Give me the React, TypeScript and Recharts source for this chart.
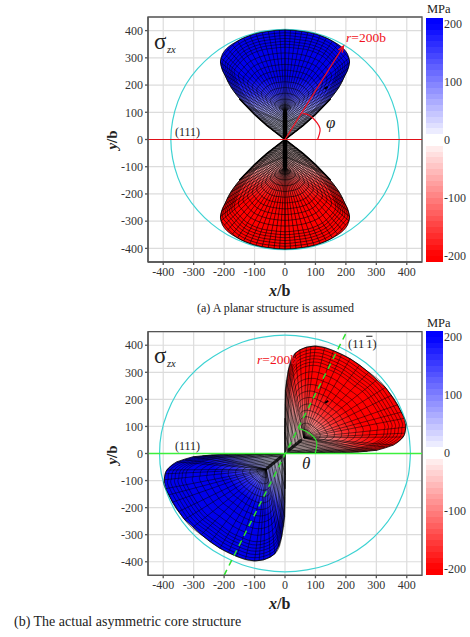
import React from 'react';
import { ComposedChart, XAxis, YAxis, CartesianGrid, Line, Area, Bar, ReferenceArea } from 'recharts';

type Pt = [number, number];

const axisTicks = [-400, -300, -200, -100, 0, 100, 200, 300, 400];
const barTicks = [200, 100, 0, -100, -200];
const barLevels = [210, 200, 190, 180, 170, 160, 150, 140, 130, 120, 110, 100, 90, 80, 70, 60, 50, 40, 30, 20, 10, 0, -10, -20, -30, -40, -50, -60, -70, -80, -90, -100, -110, -120, -130, -140, -150, -160, -170, -180, -190, -200, -210];

const circleAX = [375, 369, 352, 325, 287, 241, 188, 128, 65, 0];
const circleAY = [0, 70, 139, 203, 260, 310, 351, 381, 399, 405];
const circleBX = [412, 406, 387, 357, 316, 265, 206, 141, 72, 0];
const circleBY = [0, 76, 149, 219, 281, 335, 378, 411, 430, 437];

// panel (a): left half of the upper lobe
const lobeAX = [-212, -210, -205, -197, -186, -175, -160, -140, -120, -100, -80, -60, -40, -20, 0];
const lobeALow = [285, 270, 252, 235, 210, 188, 165, 138, 114, 92, 72, 52, 34, 17, 0];
const lobeAHigh = [285, 300, 315, 328, 340, 349, 359, 371, 380, 388, 393, 397, 400, 402, 403];

// panel (a): rings, as half curves from the crown to the core
const ringsA: [number[], number[]][] = [
  [[0, 50, 100, 160, 197, 212, 197, 175, 120, 60, 0], [403, 398, 388, 358, 316, 285, 237, 188, 114, 52, 0]],
  [[0, 48, 97, 154, 190, 205, 190, 169, 116, 58, 0], [392, 388, 378, 349, 308, 279, 232, 185, 114, 54, 4]],
  [[0, 47, 93, 149, 183, 197, 183, 163, 112, 56, 0], [382, 377, 368, 340, 301, 272, 227, 182, 113, 55, 7]],
  [[0, 45, 90, 143, 176, 190, 176, 157, 107, 54, 0], [371, 367, 358, 331, 293, 266, 223, 179, 113, 57, 11]],
  [[0, 43, 86, 138, 169, 182, 169, 151, 103, 52, 0], [361, 356, 348, 322, 286, 259, 218, 176, 112, 59, 14]],
  [[0, 41, 83, 132, 163, 175, 163, 144, 99, 50, 0], [350, 346, 338, 313, 278, 253, 213, 173, 112, 60, 18]],
  [[0, 40, 79, 126, 156, 167, 156, 138, 95, 47, 0], [339, 335, 328, 304, 271, 246, 208, 170, 111, 62, 21]],
  [[0, 36, 72, 115, 142, 153, 142, 126, 86, 43, 0], [318, 315, 307, 286, 256, 233, 199, 163, 110, 65, 28]],
  [[0, 33, 65, 104, 128, 138, 128, 114, 78, 39, 0], [297, 294, 287, 268, 240, 220, 189, 157, 109, 69, 35]],
  [[0, 29, 58, 93, 114, 123, 114, 102, 70, 35, 0], [276, 273, 267, 250, 225, 207, 179, 151, 108, 72, 42]],
  [[0, 26, 51, 82, 100, 108, 100, 89, 61, 31, 0], [255, 252, 247, 232, 210, 194, 170, 145, 107, 76, 49]],
  [[0, 22, 44, 70, 87, 93, 87, 77, 53, 26, 0], [233, 231, 227, 214, 195, 181, 160, 139, 106, 79, 56]],
  [[0, 19, 37, 59, 73, 78, 73, 65, 44, 22, 0], [212, 210, 207, 195, 180, 168, 151, 133, 105, 82, 63]],
  [[0, 15, 30, 48, 59, 64, 59, 53, 36, 18, 0], [191, 189, 186, 177, 165, 156, 141, 126, 104, 86, 70]],
  [[0, 12, 23, 37, 45, 49, 45, 40, 28, 14, 0], [170, 169, 166, 159, 150, 143, 132, 120, 103, 89, 77]],
  [[0, 8, 16, 26, 32, 34, 32, 28, 19, 10, 0], [148, 148, 146, 141, 135, 130, 122, 114, 102, 92, 84]],
  [[0, 5, 9, 14, 18, 19, 18, 16, 11, 5, 0], [127, 127, 126, 123, 119, 117, 112, 108, 101, 96, 91]],
];

// panel (a): spokes, [x end, y end, y start on the core column]
const spokesA: number[][] = [
  [0, 403, 100], [18, 402, 100], [36, 400, 100], [55, 397, 100], [75, 393, 100], [95, 388, 100], [115, 381, 100],
  [135, 371, 100], [155, 360, 100], [172, 347, 100], [188, 332, 100], [200, 315, 100], [209, 298, 100], [212, 283, 98],
  [208, 262, 95], [200, 240, 90], [190, 216, 85], [178, 193, 80], [165, 172, 75], [150, 150, 70], [135, 130, 65],
  [128, 122, 62], [120, 114, 60], [110, 103, 56], [100, 92, 52], [90, 82, 48], [80, 72, 45], [70, 62, 42], [60, 52, 38],
  [50, 43, 34], [40, 34, 30], [30, 25, 22], [20, 17, 14],
];

// panel (a): the dark lower edges of the upper lobe
const edgeA: Pt[] = [[-150, 150], [-100, 92], [-60, 52], [0, 0], [60, 52], [100, 92], [150, 150]];

// panel (b): upper right lobe
const lobeBX = [0, 1, 2, 11, 20, 33, 49, 70, 100, 130, 159, 186, 214, 245, 275, 302, 330, 356, 370, 382, 388, 392, 395, 397];
const lobeBLow = [0, 0, 1, 2, 2, 3, 3, 3, 4, 4, 4, 4, 4, 6, 9, 12, 21, 31, 41, 53, 61, 70, 84, 97];
const lobeBHigh = [0, 110, 234, 308, 342, 370, 383, 393, 397, 391, 380, 366, 350, 327, 300, 272, 244, 205, 180, 153, 140, 130, 112, 97];

const ringsB: [number[], number[]][] = [
  [[0, -1, 1, 11, 33, 100, 159, 214, 275, 330, 392, 396, 388, 329, 241, 132], [0, 110, 234, 308, 370, 397, 380, 350, 300, 244, 130, 97, 61, 24, 6, 3]],
  [[2, 1, 3, 13, 34, 99, 156, 209, 268, 321, 380, 384, 377, 320, 235, 130], [2, 108, 228, 299, 359, 385, 369, 340, 292, 237, 127, 96, 61, 25, 8, 5]],
  [[4, 3, 5, 15, 35, 97, 152, 203, 260, 311, 369, 373, 365, 310, 228, 127], [4, 106, 222, 291, 348, 373, 357, 330, 283, 231, 125, 94, 61, 26, 10, 7]],
  [[7, 6, 7, 16, 36, 96, 149, 198, 253, 302, 357, 361, 354, 301, 222, 125], [6, 105, 216, 282, 337, 361, 346, 319, 275, 224, 122, 93, 61, 28, 11, 9]],
  [[9, 8, 10, 18, 37, 95, 145, 193, 245, 292, 346, 349, 342, 292, 216, 122], [8, 103, 209, 273, 326, 350, 335, 309, 266, 218, 120, 92, 61, 29, 13, 11]],
  [[11, 10, 12, 20, 38, 93, 142, 187, 238, 283, 334, 338, 331, 282, 210, 120], [10, 101, 203, 264, 315, 338, 324, 299, 258, 211, 117, 90, 60, 30, 15, 13]],
  [[13, 12, 14, 22, 39, 92, 139, 182, 230, 274, 323, 326, 320, 273, 203, 117], [12, 99, 197, 256, 304, 326, 312, 289, 249, 205, 115, 89, 60, 31, 17, 15]],
  [[17, 17, 18, 25, 41, 89, 132, 171, 215, 255, 300, 302, 297, 254, 191, 112], [16, 95, 185, 238, 283, 302, 290, 268, 232, 192, 110, 86, 60, 34, 21, 18]],
  [[22, 21, 22, 29, 43, 87, 125, 161, 200, 236, 277, 279, 274, 236, 178, 108], [20, 92, 172, 221, 261, 278, 267, 248, 215, 179, 105, 83, 60, 36, 24, 22]],
  [[26, 25, 27, 32, 45, 84, 118, 150, 186, 217, 253, 256, 251, 217, 166, 103], [24, 88, 160, 203, 239, 255, 245, 227, 198, 166, 100, 81, 60, 38, 28, 26]],
  [[30, 30, 31, 36, 47, 81, 111, 140, 171, 199, 230, 232, 228, 198, 153, 98], [28, 85, 148, 186, 217, 231, 222, 207, 181, 153, 95, 78, 60, 41, 31, 30]],
  [[35, 34, 35, 40, 49, 79, 105, 129, 156, 180, 207, 209, 205, 179, 141, 93], [32, 81, 135, 168, 195, 207, 200, 186, 164, 140, 90, 75, 59, 43, 35, 34]],
  [[39, 39, 39, 43, 51, 76, 98, 118, 141, 161, 184, 186, 183, 161, 128, 88], [37, 77, 123, 151, 173, 183, 177, 166, 148, 127, 85, 72, 59, 45, 39, 38]],
  [[43, 43, 44, 47, 53, 73, 91, 108, 126, 142, 161, 162, 160, 142, 116, 83], [41, 74, 111, 133, 152, 160, 155, 146, 131, 114, 80, 70, 59, 48, 42, 41]],
  [[48, 48, 48, 50, 55, 71, 84, 97, 111, 124, 138, 139, 137, 123, 103, 78], [45, 70, 98, 116, 130, 136, 132, 125, 114, 101, 75, 67, 59, 50, 46, 45]],
  [[52, 52, 52, 54, 57, 68, 78, 86, 96, 105, 115, 115, 114, 105, 91, 73], [49, 66, 86, 98, 108, 112, 110, 105, 97, 88, 70, 64, 58, 53, 50, 49]],
  [[56, 56, 57, 57, 59, 65, 71, 76, 81, 86, 92, 92, 91, 86, 78, 68], [53, 63, 74, 81, 86, 89, 87, 84, 80, 75, 64, 62, 58, 55, 53, 53]],
];

// panel (b): spokes, [x start, y start, x end, y end]
const spokesB: number[][] = [
  [8, 8, 0, 40], [15, 15, -1, 80], [25, 25, 0, 130], [35, 35, 1, 180], [45, 43, 1, 234], [55, 50, 4, 270], [62, 58, 11, 308],
  [62, 58, 20, 342], [62, 58, 33, 370], [62, 58, 49, 383], [62, 58, 70, 393], [62, 58, 85, 396], [62, 58, 100, 397], [62, 58, 130, 391], [62, 58, 159, 380],
  [62, 58, 186, 366], [62, 58, 214, 350], [62, 58, 245, 327], [62, 58, 275, 300], [62, 58, 302, 272], [62, 58, 330, 244],
  [62, 58, 350, 215], [62, 58, 370, 180], [62, 58, 382, 153], [62, 58, 392, 130], [62, 58, 396, 97], [62, 58, 392, 75], [62, 58, 388, 61],
  [62, 58, 356, 31], [62, 58, 329, 24], [62, 58, 302, 12], [62, 58, 270, 8], [62, 58, 241, 6], [55, 50, 200, 4], [45, 43, 165, 3],
  [35, 35, 132, 3], [25, 25, 100, 2], [15, 15, 65, 2], [8, 8, 30, 1],
];

// panel (b): the dark edges that meet at the origin
const edgeB: Pt[] = [[0, 130], [-1, 80], [0, 0], [80, 2], [132, 3]];

const planeLine: Pt[] = [[-450, 0], [450, 0]];
const arrowA: Pt[] = [[0, 0], [192, 343]];
const arrowAHead: Pt[] = [[188, 319], [192, 343], [175, 329]];
const phiArc: Pt[] = [[58, 96], [78, 90], [93, 77], [106, 60], [115, 40], [113, 20], [107, 0]];
const thetaArc: Pt[] = [[44, 92], [62, 86], [81, 74], [95, 60], [104, 43], [103, 20], [99, 0]];
const slipLine: Pt[] = [[-200, -450], [200, 444]];
const coreA: Pt[] = [[0, 10], [0, 98]];
const coreAFlip: Pt[] = [[0, -10], [0, -98]];
const coreB: Pt[] = [[14, 14], [52, 48]];
const coreBFlip: Pt[] = [[-14, -14], [-58, -54]];
const speckA: Pt[] = [[130, 186], [140, 194]];
const speckB: Pt[] = [[132, 187], [142, 195]];

const pts = (list: Pt[]) => list.map(([x, y]) => ({ x, y }));
const zip = (xs: number[], ys: number[]): Pt[] => xs.map((x, i) => [x, ys[i]]);

const joinCurves = (curves: Pt[][]) => {
  const out: { x: number; y: number | null }[] = [];
  curves.forEach((c) => {
    c.forEach(([x, y]) => out.push({ x, y }));
    out.push({ x: c[c.length - 1][0], y: null });
  });
  return out;
};

const ellipse = (xs: number[], ys: number[]) => {
  const q = zip(xs, ys);
  const all: Pt[] = [
    ...q,
    ...q.slice(0, -1).reverse().map(([x, y]): Pt => [-x, y]),
    ...q.slice(1).map(([x, y]): Pt => [-x, -y]),
    ...q.slice(0, -1).reverse().map(([x, y]): Pt => [x, -y]),
  ];
  return pts(all);
};

const bothSides = (half: Pt[]): Pt[] => [
  ...half.slice().reverse().map(([x, y]): Pt => [-x, y]),
  ...half.slice(1),
];

const ringCurvesA = ringsA.map(([xs, ys]) => bothSides(zip(xs, ys)));
const spokeCurvesA = spokesA.flatMap(([x, y, y0]): Pt[][] => [
  [[0, y0], [x, y]],
  [[0, y0], [-x, y]],
]);
const flipY = (c: Pt[]): Pt[] => c.map(([x, y]) => [x, -y]);
const flipXY = (c: Pt[]): Pt[] => c.map(([x, y]) => [-x, -y]);

const ringCurvesB = ringsB.map(([xs, ys]) => {
  const c = zip(xs, ys);
  return [...c, c[0]];
});
const spokeCurvesB = spokesB.map(([a, b, c, d]): Pt[] => [[a, b], [c, d]]);

const lobeAUpper = [
  ...lobeAX.map((x, i) => ({ x, r: [lobeALow[i], lobeAHigh[i]] })),
  ...lobeAX.slice(0, -1).reverse().map((x) => {
    const i = lobeAX.indexOf(x);
    return { x: -x, r: [lobeALow[i], lobeAHigh[i]] };
  }),
];
const lobeALower = lobeAUpper.map((d) => ({ x: d.x, r: [-d.r[1], -d.r[0]] }));
const lobeBRight = lobeBX.map((x, i) => ({ x, r: [lobeBLow[i], lobeBHigh[i]] }));
const lobeBLeft = lobeBX.slice().reverse().map((x) => {
  const i = lobeBX.indexOf(x);
  return { x: -x, r: [-lobeBHigh[i], -lobeBLow[i]] };
});

const meshA = {
  upper: joinCurves([...ringCurvesA, ...spokeCurvesA]),
  lower: joinCurves([...ringCurvesA, ...spokeCurvesA].map(flipY)),
};
const meshB = {
  right: joinCurves([...ringCurvesB, ...spokeCurvesB]),
  left: joinCurves([...ringCurvesB, ...spokeCurvesB].map(flipXY)),
};

const SERIF = '"Liberation Serif", serif';
const AX = '#555';
const CYAN = '#3fd3d3';

const barColor = (v: number) => {
  const t = Math.round(255 * (1 - Math.min(Math.abs(v), 200) / 200));
  return v > 0 ? `rgb(${t},${t},255)` : `rgb(255,${t},${t})`;
};

const barStops = (levels: number[]) => {
  const stops: React.ReactElement[] = [];
  for (let i = 0; i < levels.length - 1; i++) {
    const mid = (levels[i] + levels[i + 1]) / 2;
    const zeroBand = levels[i] === 0 || levels[i + 1] === 0;
    const col = zeroBand ? '#ffffff' : barColor(mid);
    stops.push(<stop key={`a${i}`} offset={(210 - levels[i]) / 420} stopColor={col} />);
    stops.push(<stop key={`b${i}`} offset={(210 - levels[i + 1]) / 420} stopColor={col} />);
  }
  return stops;
};

const axes = (
  <>
    <CartesianGrid stroke="#dcdcdc" strokeWidth={1.2} />
    <XAxis
      dataKey="x" type="number" domain={[-450, 450]} ticks={axisTicks} allowDataOverflow interval={0}
      height={30} tickSize={3} tickMargin={2} stroke={AX} strokeWidth={1.3}
      tick={{ fontFamily: SERIF, fontSize: 12, fill: '#333' }}
    />
    <YAxis
      type="number" domain={[-450, 450]} ticks={axisTicks} allowDataOverflow interval={0}
      width={40} tickSize={3} tickMargin={2} stroke={AX} strokeWidth={1.3}
      tick={{ fontFamily: SERIF, fontSize: 12, fill: '#333' }}
    />
    <ReferenceArea x1={-450} x2={450} y1={-450} y2={450} fill="none" stroke={AX} strokeWidth={1.3} ifOverflow="visible" />
  </>
);

const plain = (key: string, data: any[], stroke: string, width: number, extra: any = {}) => (
  <Line
    key={key} data={data} dataKey="y" stroke={stroke} strokeWidth={width} dot={false} activeDot={false}
    isAnimationActive={false} type="linear" legendType="none" {...extra}
  />
);

const lobe = (key: string, data: any[], fill: string) => (
  <Area
    key={key} data={data} dataKey="r" type="linear" stroke="#000" strokeWidth={0.8} fill={`url(#${fill})`}
    fillOpacity={1} dot={false} activeDot={false} isAnimationActive={false} legendType="none"
  />
);

const stopOffsets = [0, 0.16, 0.3, 0.42, 0.56];

const stops = (c: 'r' | 'b', scale: number) => {
  const ramp = c === 'r'
    ? ['#fff4f4', '#f6d4d4', '#f58c8c', '#fb3030', '#ff0000']
    : ['#f4f4ff', '#d8d8f8', '#8c8cf2', '#3030f0', '#0000ec'];
  return [
    ...ramp.map((col, i) => <stop key={i} offset={stopOffsets[i] * scale} stopColor={col} />),
    <stop key="end" offset={1} stopColor={ramp[4]} />,
  ];
};

const Note = ({ x, y, size = 12, color = '#222', style, children }: any) => (
  <div style={{ position: 'absolute', left: x, top: y, transform: 'translateY(-50%)', fontFamily: SERIF, fontSize: size, color, lineHeight: 1, whiteSpace: 'nowrap', ...style }}>
    {children}
  </div>
);

const ColorBar = ({ top, id }: { top: number; id: string }) => (
  <div style={{ position: 'absolute', left: 426, top }}>
    <ComposedChart width={44} height={244} data={[{ c: 'MPa', range: [-210, 210] }]} margin={{ top: 0, right: 0, bottom: 0, left: 0 }} barCategoryGap={0}>
      <defs>
        <linearGradient id={id} x1="0" y1="0" x2="0" y2="1">{barStops(barLevels)}</linearGradient>
      </defs>
      <XAxis dataKey="c" hide />
      <YAxis
        orientation="right" type="number" domain={[-210, 210]} ticks={barTicks} interval={0} width={27}
        axisLine={false} tickLine={false} tickMargin={1} tickSize={0}
        tick={{ fontFamily: SERIF, fontSize: 12, fill: '#333', textAnchor: 'start' }}
      />
      <Bar dataKey="range" fill={`url(#${id})`} isAnimationActive={false} legendType="none" />
    </ComposedChart>
  </div>
);

export default function App() {
  return (
    <div style={{ position: 'absolute', left: 0, top: 0, width: 470, height: 637, background: '#fff', overflow: 'hidden' }}>
      <div style={{ position: 'absolute', left: 0, top: 0 }}>
        <ComposedChart width={470} height={320} margin={{ top: 17, right: 48, bottom: 28, left: 108 }}>
          <defs>
            <linearGradient id="aBlue" x1="0" y1="1" x2="0" y2="0">{stops('b', 1)}</linearGradient>
            <linearGradient id="aRed" x1="0" y1="0" x2="0" y2="1">{stops('r', 1)}</linearGradient>
          </defs>
          {axes}
          {plain('circle', ellipse(circleAX, circleAY), CYAN, 1.2, { type: 'natural' })}
          {lobe('up', lobeAUpper, 'aBlue')}
          {lobe('down', lobeALower, 'aRed')}
          {plain('meshUp', meshA.upper, '#000', 0.5, { type: 'natural' })}
          {plain('meshDown', meshA.lower, '#000', 0.6, { type: 'natural' })}
          {plain('edgeUp', pts(edgeA), '#000', 1.5)}
          {plain('edgeDown', pts(flipY(edgeA)), '#000', 1.5)}
          {plain('coreUp', pts(coreA), '#000', 4.5, { strokeLinecap: 'round' })}
          {plain('coreDown', pts(coreAFlip), '#000', 4.5, { strokeLinecap: 'round' })}
          {plain('speck', pts(speckA), '#000', 2)}
          {plain('plane', pts(planeLine), '#e01018', 1.2)}
          {plain('arrow', pts(arrowA), '#f01020', 1.2)}
          {plain('arrowHead', pts(arrowAHead), '#f01020', 1.4)}
          {plain('phi', pts(phiArc), '#f01020', 1.2, { type: 'natural' })}
        </ComposedChart>
      </div>
      <div style={{ position: 'absolute', left: 0, top: 322 }}>
        <ComposedChart width={470} height={315} margin={{ top: 9.7, right: 48, bottom: 31.7, left: 108 }}>
          <defs>
            <linearGradient id="bRed" x1="0" y1="1" x2="1" y2="0">{stops('r', 0.8)}</linearGradient>
            <linearGradient id="bBlue" x1="1" y1="0" x2="0" y2="1">{stops('b', 0.65)}</linearGradient>
          </defs>
          {axes}
          {plain('circle', ellipse(circleBX, circleBY), CYAN, 1.2, { type: 'natural' })}
          {lobe('right', lobeBRight, 'bRed')}
          {lobe('left', lobeBLeft, 'bBlue')}
          {plain('meshRight', meshB.right, '#000', 0.5, { type: 'natural' })}
          {plain('meshLeft', meshB.left, '#000', 0.5, { type: 'natural' })}
          {plain('edgeRight', pts(edgeB), '#000', 0.9)}
          {plain('edgeLeft', pts(flipXY(edgeB)), '#000', 0.9)}
          {plain('coreR', pts(coreB), '#000', 3, { strokeLinecap: 'round', strokeOpacity: 0.8 })}
          {plain('coreL', pts(coreBFlip), '#000', 3, { strokeLinecap: 'round', strokeOpacity: 0.8 })}
          {plain('speck', pts(speckB), '#000', 2)}
          {plain('plane', pts(planeLine), '#3cf03c', 1.3)}
          {plain('slip', pts(slipLine), '#2fe02f', 1.5, { strokeDasharray: '6 5' })}
          {plain('theta', pts(thetaArc), '#2fe02f', 1.2, { type: 'natural' })}
        </ComposedChart>
      </div>

      <ColorBar top={17.5} id="cbarA" />
      <ColorBar top={331} id="cbarB" />

      <Note x={427} y={9} size={12.5}>MPa</Note>
      <Note x={427} y={323} size={12.5}>MPa</Note>

      <Note x={154} y={41} size={23}>σ</Note>
      <Note x={167} y={50} size={10.5} style={{ fontStyle: 'italic' }}>zx</Note>
      <Note x={154} y={355} size={23}>σ</Note>
      <Note x={167} y={364} size={10.5} style={{ fontStyle: 'italic' }}>zx</Note>

      <Note x={346} y={38} size={13.5} color="#f01020"><i>r</i>=200b</Note>
      <Note x={257} y={360} size={13.5} color="#f01020"><i>r</i>=200b</Note>
      <Note x={326} y={122} size={17} style={{ fontStyle: 'italic' }}>φ</Note>
      <Note x={302} y={463} size={17} style={{ fontStyle: 'italic' }}>θ</Note>
      <Note x={175} y={132} size={12}>(111)</Note>
      <Note x={175} y={446} size={12}>(111)</Note>
      <Note x={348} y={344} size={12.5}>(11<span style={{ marginLeft: 2, textDecoration: 'overline' }}>1</span>)</Note>

      <Note x={269} y={291} size={16} style={{ fontWeight: 'bold' }}><i>x</i>/b</Note>
      <Note x={269} y={604} size={16} style={{ fontWeight: 'bold' }}><i>x</i>/b</Note>
      <Note x={112} y={140} size={15} style={{ fontWeight: 'bold', transform: 'translate(-50%,-50%) rotate(-90deg)' }}><i>y</i>/b</Note>
      <Note x={112} y={455} size={15} style={{ fontWeight: 'bold', transform: 'translate(-50%,-50%) rotate(-90deg)' }}><i>y</i>/b</Note>

      <Note x={197} y={308} size={12}>(a) A planar structure is assumed</Note>
      <Note x={14} y={622} size={14}>(b) The actual asymmetric core structure</Note>
    </div>
  );
}
